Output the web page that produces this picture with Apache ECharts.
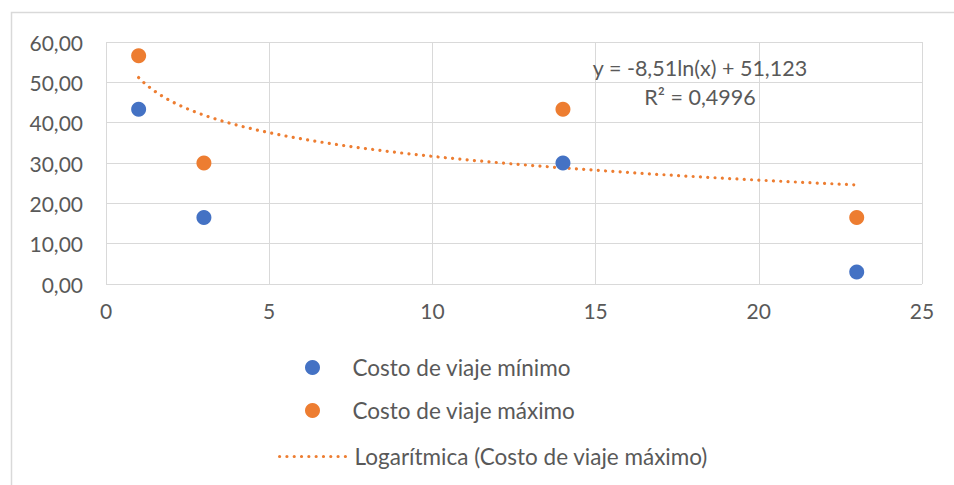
<!DOCTYPE html>
<html>
<head>
<meta charset="utf-8">
<script src="https://cdn.jsdelivr.net/npm/echarts@6/dist/echarts.min.js"></script>
<style>
html,body{margin:0;padding:0;background:#fff;}
#chart{width:954px;height:485px;}
</style>
</head>
<body>
<div id="chart"></div>
<script>
// ---- data ----
const xValues = [1, 3, 14, 23];
const costoMinimo = [43.3, 16.5, 30.0, 3.0];
const costoMaximo = [56.6, 30.0, 43.3, 16.5];
const seriesNames = ['Costo de viaje mínimo', 'Costo de viaje máximo', 'Logarítmica (Costo de viaje máximo)'];
const equationLines = ['y = -8,51ln(x) + 51,123', 'R² = 0,4996'];
const xTicks = [0, 5, 10, 15, 20, 25];
const yTicks = [0, 10, 20, 30, 40, 50, 60];

// ---- logarithmic least-squares fit of the maximum series ----
const lx = xValues.map(Math.log);
const n = lx.length;
const mx = lx.reduce((a, b) => a + b, 0) / n;
const my = costoMaximo.reduce((a, b) => a + b, 0) / n;
let sxy = 0, sxx = 0;
for (let i = 0; i < n; i++) { sxy += (lx[i] - mx) * (costoMaximo[i] - my); sxx += (lx[i] - mx) ** 2; }
const slope = sxy / sxx;
const intercept = my - slope * mx;
const xMin = Math.min(...xValues), xMax = Math.max(...xValues);
const trend = [];
for (let x = xMin; x <= xMax + 1e-9; x += 0.1) trend.push([x, intercept + slope * Math.log(x)]);

const FONT = 'Lato';
const TXT = '#595959';
const GRID = '#d9d9d9';
const BLUE = '#4472C4';
const ORANGE = '#ED7D31';
const dotted = {color: ORANGE, width: 3.2, type: [0.01, 7.3], cap: 'round'};

const chart = echarts.init(document.getElementById('chart'), null, {renderer: 'svg'});
const legendBase = {
  orient: 'vertical', itemWidth: 70, itemHeight: 15, padding: 0,
  textStyle: {fontFamily: FONT, fontSize: 22.5, color: TXT}, selectedMode: false
};
chart.setOption({
  animation: false,
  backgroundColor: '#fff',
  textStyle: {fontFamily: FONT},
  grid: {left: 106, top: 42, right: 32, bottom: 201, containLabel: false},
  xAxis: {
    type: 'value', min: xTicks[0], max: xTicks[xTicks.length - 1], interval: 5,
    axisLine: {show: false}, axisTick: {show: false},
    splitLine: {show: true, lineStyle: {color: GRID, width: 1}},
    axisLabel: {fontFamily: FONT, fontSize: 21, color: TXT, margin: 16}
  },
  yAxis: {
    type: 'value', min: yTicks[0], max: yTicks[yTicks.length - 1], interval: 10,
    axisLine: {show: false}, axisTick: {show: false},
    splitLine: {show: true, lineStyle: {color: GRID, width: 1}},
    axisLabel: {fontFamily: FONT, fontSize: 21, color: TXT, margin: 23,
      formatter: v => v.toFixed(2).replace('.', ',')}
  },
  legend: [
    Object.assign({}, legendBase, {left: 305, top: 356, data: [seriesNames[0]]}),
    Object.assign({}, legendBase, {left: 305, top: 399, data: [seriesNames[1]]}),
    Object.assign({}, legendBase, {left: 278, top: 445, data: [seriesNames[2]],
      itemStyle: {opacity: 0}, lineStyle: dotted})
  ],
  graphic: [
    {type: 'rect', shape: {x: 11.5, y: 12.5, width: 1000, height: 600}, silent: true,
      style: {fill: 'none', stroke: GRID, lineWidth: 1.5}},
    {type: 'text', x: 700, y: 68, style: {text: equationLines[0], fontFamily: FONT, fontSize: 21.5,
      fill: TXT, textAlign: 'center', textVerticalAlign: 'middle'}, z: 10},
    {type: 'text', x: 700, y: 97, style: {text: equationLines[1], fontFamily: FONT, fontSize: 21.5,
      fill: TXT, textAlign: 'center', textVerticalAlign: 'middle'}, z: 10}
  ],
  series: [
    {name: seriesNames[2], type: 'line', data: trend, showSymbol: false, symbol: 'none',
      lineStyle: dotted, itemStyle: {color: ORANGE}, z: 2},
    {name: seriesNames[0], type: 'scatter', symbol: 'circle', symbolSize: 15,
      data: xValues.map((x, i) => [x, costoMinimo[i]]), itemStyle: {color: BLUE, opacity: 1}, z: 3},
    {name: seriesNames[1], type: 'scatter', symbol: 'circle', symbolSize: 15,
      data: xValues.map((x, i) => [x, costoMaximo[i]]), itemStyle: {color: ORANGE, opacity: 1}, z: 3}
  ]
});
</script>
</body>
</html>
